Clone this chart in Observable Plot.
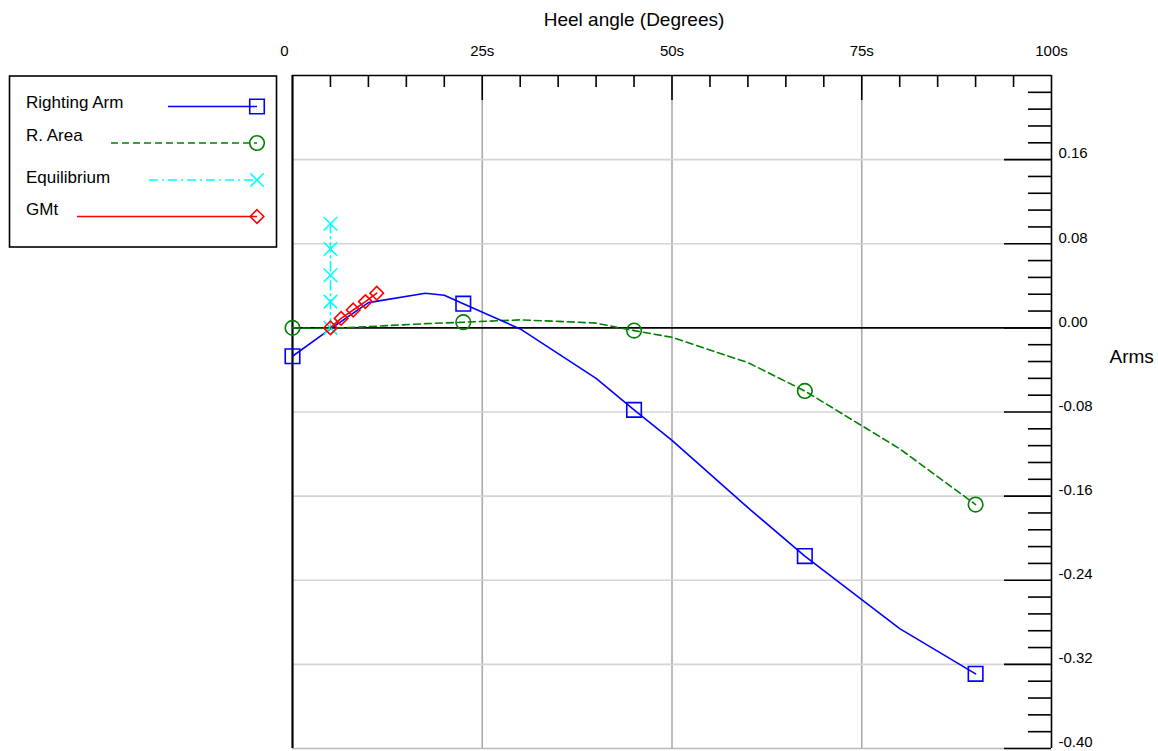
<!DOCTYPE html>
<html><head><meta charset="utf-8">
<script src="https://cdn.jsdelivr.net/npm/d3@7"></script>
<script src="https://cdn.jsdelivr.net/npm/@observablehq/plot@0.6"></script>
<style>
html,body{margin:0;padding:0;background:#fff;}
#wrap{position:relative;width:1158px;height:751px;overflow:hidden;font-family:"Liberation Sans",Arial,Helvetica,sans-serif;}
#wrap svg{display:block;}
#legend{position:absolute;left:0;top:0;}
</style></head><body><div id="wrap"></div>
<script>
// ---- data ----
const rightingArmX = [0, 5, 10, 17.5, 20, 22.5, 30, 40, 45, 50, 60, 67.5, 80, 90];
const rightingArmY = [-0.027, -0.001, 0.024, 0.033, 0.031, 0.023, -0.001, -0.048, -0.078, -0.107, -0.171, -0.217, -0.286, -0.329];
const rAreaX = [0, 5, 10, 17.5, 20, 22.5, 30, 35, 40, 45, 50, 60, 67.5, 80, 90];
const rAreaY = [0.000, -0.0005, 0.0012, 0.004, 0.0047, 0.0054, 0.0076, 0.0062, 0.0045, -0.0026, -0.009, -0.033, -0.060, -0.115, -0.168];
const markerAngles = [0, 22.5, 45, 67.5, 90];
const equilibriumX = [5, 5, 5, 5, 5];
const equilibriumY = [0.099, 0.075, 0.050, 0.025, 0.000];
const gmtX = [5, 6.4, 8, 9.6, 11.1];
const gmtY = [0.000, 0.009, 0.017, 0.025, 0.033];

const xLabelTicks = [25, 50, 75, 100];
const xZeroLabel = [0];
const xMajorTicks = [25, 50, 75];
const xMinorTicks = [5, 10, 15, 20, 30, 35, 40, 45, 55, 60, 65, 70, 80, 85, 90, 95];
const yGridTicks = [0.16, 0.08, -0.08, -0.16, -0.24, -0.32];
const yMajorTicks = [0.16, 0.08, 0, -0.08, -0.16, -0.24, -0.32, -0.40];
const yMinorTicks = d3.range(-24, 15).filter(i => i % 5 !== 0).map(i => +(i * 0.016).toFixed(3));

const xLabel = "Heel angle (Degrees)";
const yLabel = "Arms";
const seriesNames = ["Righting Arm", "R. Area", "Equilibrium", "GMt"];
const seriesColors = ["#0000ff", "#008000", "#00ffff", "#ff0000"];

// ---- tables ----
const ra = rightingArmX.map((x, i) => ({x, y: rightingArmY[i]}));
const area = rAreaX.map((x, i) => ({x, y: rAreaY[i]}));
const eq = equilibriumX.map((x, i) => ({x, y: equilibriumY[i]}));
const gmt = gmtX.map((x, i) => ({x, y: gmtY[i]}));
const raMarks = ra.filter(d => markerAngles.includes(d.x));
const areaMarks = area.filter(d => markerAngles.includes(d.x));

const W = 1158, H = 751, mT = 75, mB = 3, mL = 292, mR = 107;
const innerW = W - mL - mR, innerH = H - mT - mB;
const font = "Liberation Sans, Arial, Helvetica, sans-serif";
const rSq = 8.2, rCi = 7.3, rX = 6.2, rDi = 6.1;

const chart = Plot.plot({
  width: W, height: H,
  marginTop: mT, marginBottom: mB, marginLeft: mL, marginRight: mR,
  x: {domain: [0, 100], axis: null},
  y: {domain: [-0.40, 0.24], axis: null},
  style: {fontFamily: font, background: "white", color: "black", overflow: "visible"},
  marks: [
    // grid
    Plot.ruleX(xMajorTicks, {x: d => d, stroke: "#aaaaaa", strokeWidth: 1.6}),
    Plot.ruleY(yGridTicks, {y: d => d, stroke: "#d4d4d4", strokeWidth: 1.6}),
    Plot.ruleY([-0.40], {y: d => d, stroke: "#b8b8b8", strokeWidth: 1.6}),
    Plot.ruleY([0], {y: d => d, stroke: "black", strokeWidth: 1.6}),
    // frame
    Plot.ruleY([0.24], {y: d => d, stroke: "black", strokeWidth: 1.6}),
    Plot.ruleX([100], {x: d => d, stroke: "black", strokeWidth: 1.6}),
    Plot.ruleX([0], {x: d => d, stroke: "black", strokeWidth: 2.2}),
    // ticks (inside)
    Plot.ruleX(xMajorTicks, {x: d => d, insetBottom: innerH - 25, stroke: "black", strokeWidth: 1.6}),
    Plot.ruleX(xMinorTicks, {x: d => d, insetBottom: innerH - 12, stroke: "black", strokeWidth: 1.6}),
    Plot.ruleY(yMajorTicks, {y: d => d, insetLeft: innerW - 47, stroke: "black", strokeWidth: 1.6}),
    Plot.ruleY(yMinorTicks, {y: d => d, insetLeft: innerW - 23, stroke: "black", strokeWidth: 1.6}),
    // tick labels
    Plot.text(xLabelTicks, {x: d => d, frameAnchor: "top", dy: -30, text: d => d + "s", fontSize: 15, fill: "black"}),
    Plot.text(xZeroLabel, {x: d => d, frameAnchor: "top", dy: -30, dx: -8, text: d => String(d), fontSize: 15, fill: "black"}),
    Plot.text(yMajorTicks, {y: d => d, frameAnchor: "right", dx: 7, dy: -6, textAnchor: "start", text: d => d.toFixed(2), fontSize: 15, fill: "black"}),
    // axis labels
    Plot.text([xLabel], {frameAnchor: "top", dx: -38, dy: -63, text: d => d, fontSize: 19, fill: "black"}),
    Plot.text([yLabel], {frameAnchor: "right", dx: 58, dy: -55, textAnchor: "start", text: d => d, fontSize: 19, fill: "black"}),
    // series
    Plot.line(area, {x: "x", y: "y", stroke: seriesColors[1], strokeWidth: 1.6, strokeDasharray: "7,4"}),
    Plot.dot(areaMarks, {x: "x", y: "y", symbol: "circle", r: rCi, stroke: seriesColors[1], strokeWidth: 1.6, fill: "none"}),
    Plot.line(ra, {x: "x", y: "y", stroke: seriesColors[0], strokeWidth: 1.6}),
    Plot.dot(raMarks, {x: "x", y: "y", symbol: "square", r: rSq, stroke: seriesColors[0], strokeWidth: 1.6, fill: "none"}),
    Plot.line(eq, {x: "x", y: "y", stroke: seriesColors[2], strokeWidth: 1.6, strokeDasharray: "9,4,2,4"}),
    Plot.dot(eq, {x: "x", y: "y", symbol: "times", r: rX, stroke: seriesColors[2], strokeWidth: 1.6}),
    Plot.line(gmt, {x: "x", y: "y", stroke: seriesColors[3], strokeWidth: 1.6}),
    Plot.dot(gmt, {x: "x", y: "y", symbol: "diamond2", r: rDi, stroke: seriesColors[3], strokeWidth: 1.6, fill: "none"})
  ]
});
const wrap = document.getElementById("wrap");
wrap.appendChild(chart);

// ---- legend (HTML overlay) ----
const legendLayout = [
  {x1: 168, ty: 102, ly: 106.5, dash: null, symbol: d3.symbolSquare, r: rSq, fill: "none"},
  {x1: 111, ty: 135, ly: 143, dash: "7,4", symbol: d3.symbolCircle, r: rCi, fill: "none"},
  {x1: 149, ty: 177, ly: 180, dash: "9,4,2,4", symbol: d3.symbolTimes, r: rX, fill: "none"},
  {x1: 77, ty: 209, ly: 216.5, dash: null, symbol: d3.symbolDiamond2, r: rDi, fill: "none"}
];
const lsvg = d3.create("svg").attr("id", "legend").attr("width", 300).attr("height", 260)
  .style("font-family", font);
lsvg.append("rect").attr("x", 9.5).attr("y", 76).attr("width", 267).attr("height", 171)
  .attr("fill", "white").attr("stroke", "black").attr("stroke-width", 1.6);
legendLayout.forEach((L, i) => {
  const g = lsvg.append("g");
  g.append("text").attr("x", 26).attr("y", L.ty).attr("dy", "0.35em").attr("font-size", 17)
    .attr("fill", "black").text(seriesNames[i]);
  g.append("line").attr("x1", L.x1).attr("x2", 257).attr("y1", L.ly).attr("y2", L.ly)
    .attr("stroke", seriesColors[i]).attr("stroke-width", 1.6)
    .attr("stroke-dasharray", L.dash);
  g.append("path").attr("transform", `translate(257,${L.ly})`)
    .attr("d", d3.symbol(L.symbol, L.r * L.r * Math.PI)())
    .attr("fill", L.fill).attr("stroke", seriesColors[i]).attr("stroke-width", 1.6);
});
wrap.appendChild(lsvg.node());
</script></body></html>
